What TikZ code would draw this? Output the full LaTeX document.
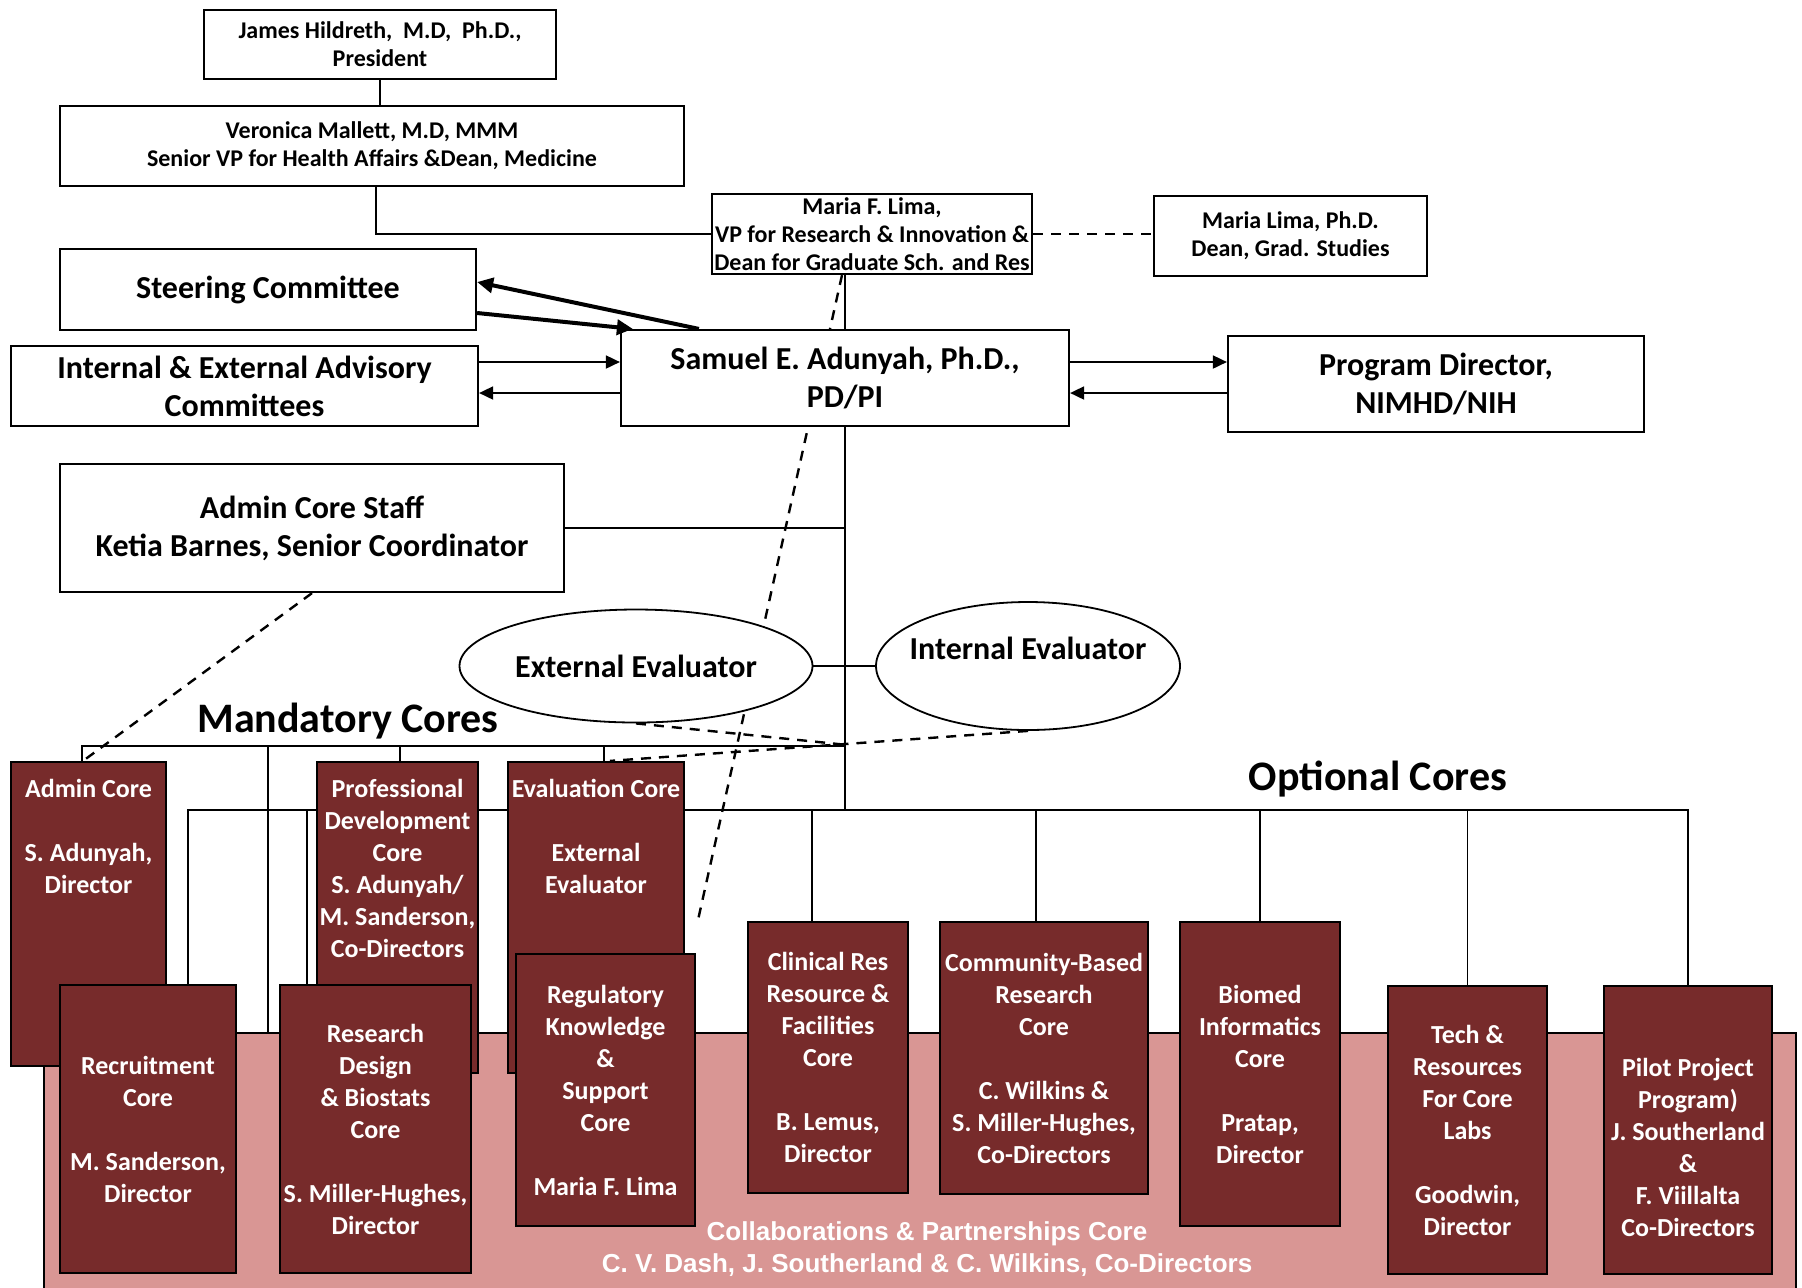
\documentclass[tikz,border=0pt]{standalone}
\usepackage{fontspec}
\setmainfont{Carlito}
\newfontfamily\arialfont{Liberation Sans}
\usetikzlibrary{arrows.meta}
\usetikzlibrary{shapes.geometric}
\usetikzlibrary{backgrounds}
\usetikzlibrary{calc}
\definecolor{coredark}{RGB}{119,43,43}
\definecolor{collabpink}{RGB}{217,150,148}

\tikzset{
  topbox/.style={draw, line width=1.1pt, fill=white, inner sep=0pt, align=center, font=\fontsize{12}{14}\selectfont\bfseries},
  bigbox/.style={topbox, font=\fontsize{16}{19}\selectfont\bfseries},
  evalell/.style={ellipse, draw, line width=0.9pt, fill=white, inner sep=0pt, font=\fontsize{16}{19}\selectfont\bfseries},
  evaltxt/.style={inner sep=0pt, font=\fontsize{16}{19}\selectfont\bfseries},
  corebox/.style={draw, line width=1.1pt, fill=coredark, text=white, inner sep=0pt, align=center, font=\fontsize{13}{16}\selectfont\bfseries},
  corelbl/.style={text=white, inner sep=0pt, align=center, font=\fontsize{13}{16}\selectfont\bfseries},
  collabtxt/.style={text=white, inner sep=0pt, align=center, font=\arialfont\fontsize{13}{16}\selectfont\bfseries},
  heading/.style={font=\fontsize{21}{25}\selectfont\bfseries},
  conn/.style={line width=0.9pt},
  dconn/.style={line width=1.2pt, dash pattern=on 5pt off 4pt},
  arr/.style={conn, -{Triangle[length=7pt,width=6.5pt]}},
  rarr/.style={conn, {Triangle[length=7pt,width=6.5pt]}-},
  fatarr/.style={line width=2pt, -{Triangle[length=8pt,width=7.5pt]}}
}

\begin{document}
\begin{tikzpicture}[x=0.5pt, y=-0.5pt]

\useasboundingbox (0,0) rectangle (1802,1287);

% leadership
\node[topbox, minimum width=176pt, minimum height=34.5pt] (pres) at (380,44.5) {James Hildreth,~ M.D,~ Ph.D.,\\President};
\node[topbox, minimum width=312pt, minimum height=40pt] (mallett) at (372,146) {Veronica Mallett, M.D, MMM\\Senior VP for Health Affairs \&Dean, Medicine};
\node[topbox, minimum width=160pt, minimum height=40pt] (lima) at (872,234) {Maria F. Lima,\\VP for Research \& Innovation \&\\Dean for Graduate Sch. and Res};
\node[topbox, minimum width=136.5pt, minimum height=40pt] (dean) at (1290.5,236) {Maria Lima, Ph.D.\\Dean, Grad. Studies};

\node[bigbox, minimum width=208pt, minimum height=40.5pt] (steer) at (268,289.5) {Steering Committee};
\node[bigbox, minimum width=233.5pt, minimum height=40pt] (advis) at (244.5,386) {Internal \& External Advisory\\Committees};
\node[bigbox, minimum width=224pt, minimum height=48pt] (pdpi) at (845,378) {Samuel E. Adunyah, Ph.D.,\\PD/PI};
\node[bigbox, minimum width=208pt, minimum height=48pt] (nimhd) at (1436,384) {Program Director,\\NIMHD/NIH};
\node[bigbox, minimum width=252pt, minimum height=64pt] (staff) at (312,528) {Admin Core Staff\\Ketia Barnes, Senior Coordinator};

% evaluators
\node[evalell, minimum width=176.5pt, minimum height=56.5pt] (exteval) at (636,666) {External Evaluator};
\node[evalell, minimum width=152pt, minimum height=64pt, label={[evaltxt, yshift=9pt]center:Internal Evaluator}] (inteval) at (1028,666) {};

\node[heading] (mandlbl) at (348,721) {Mandatory Cores};
\node[heading] (optlbl) at (1378,779) {Optional Cores};

% collaborations core (background band)
\node[draw, line width=1.1pt, fill=collabpink, minimum width=876pt, minimum height=133.5pt,
  label={[collabtxt, xshift=3.5pt, yshift=-41.25pt]center:{Collaborations \& Partnerships Core\\C. V. Dash, J. Southerland \& C. Wilkins, Co-Directors}}] (collab) at (920,1166.5) {};

% mandatory cores
\node[corebox, minimum width=77.5pt, minimum height=152pt, label={[corelbl, yshift=38.75pt]center:{Admin Core\\[16pt]S. Adunyah,\\Director}}] (admin) at (88.5,914) {};
\node[corebox, minimum width=80.5pt, minimum height=155.5pt, label={[corelbl, yshift=24.75pt]center:{Professional\\Development\\Core\\S. Adunyah/\\M. Sanderson,\\Co-Directors}}] (profdev) at (397.5,917.5) {};
\node[corebox, minimum width=88pt, minimum height=155.5pt, label={[corelbl, yshift=40.5pt]center:{Evaluation Core\\[16pt]External\\Evaluator}}] (evalcore) at (596,917.5) {};

% optional cores
\node[corebox, minimum width=88pt, minimum height=144pt] (recruit) at (148,1129) {Recruitment\\Core\\[16pt]M. Sanderson,\\Director};
\node[corebox, minimum width=95.5pt, minimum height=144pt] (design) at (375.5,1129) {Research\\Design\\\& Biostats\\Core\\[16pt]S. Miller-Hughes,\\Director};
\node[corebox, minimum width=89.5pt, minimum height=136pt] (regul) at (605.5,1090) {Regulatory\\Knowledge\\\&\\Support\\Core\\[16pt]Maria F. Lima};
\node[corebox, minimum width=80pt, minimum height=135.5pt] (clinical) at (828,1057.5) {Clinical Res\\Resource \&\\Facilities\\Core\\[16pt]B. Lemus,\\Director};
\node[corebox, minimum width=104pt, minimum height=136pt] (community) at (1044,1058) {Community-Based\\Research\\Core\\[16pt]C. Wilkins \&\\S. Miller-Hughes,\\Co-Directors};
\node[corebox, minimum width=80pt, minimum height=152pt] (biomed) at (1260,1074) {Biomed\\Informatics\\Core\\[16pt]Pratap,\\Director};
\node[corebox, minimum width=79.5pt, minimum height=144pt] (tech) at (1467.5,1130) {Tech \&\\Resources\\For Core\\Labs\\[16pt]Goodwin,\\Director};
\node[corebox, minimum width=84pt, minimum height=144pt, label={[corelbl, yshift=-8.5pt]center:{Pilot Project\\Program)\\J. Southerland\\\&\\F. Viillalta\\Co-Directors}}] (pilot) at (1688,1130) {};

\coordinate (mbus) at (845,746);
\coordinate (obus) at (845,810);
\coordinate (dashend) at (698,920);

\begin{scope}[on background layer]
\draw[conn] (pres.south) -- (pres.south |- mallett.north);
\draw[conn] ([xshift=2pt]mallett.south) |- (lima.west);
\draw[dconn] (lima.east) -- (lima.east -| dean.west);
\draw[conn] (pdpi.north) -- (pdpi.north |- lima.south);
\draw[dconn] ([xshift=-15pt]lima.south) -- (dashend);
\draw[conn] (pdpi.south) -- (obus);
\draw[conn] (staff.east) -- (staff.east -| pdpi.south);
\draw[conn] (exteval.east) -- (inteval.west);
\foreach \cname/\dx in {admin/-3.25pt, profdev/1.25pt, evalcore/4pt, collab/-326pt}
  \draw[conn] ([xshift=\dx]\cname.north) |- (mbus);
\foreach \cname/\dx in {recruit/20pt, design/-34.25pt, clinical/-8pt, community/-4pt, biomed/0pt, tech/0pt, pilot/0pt}
  \draw[conn] ([xshift=\dx]\cname.north) |- (obus);
\end{scope}

% evaluation links
\draw[dconn] (inteval.south) -- ([xshift=7pt]evalcore.north);
\draw[dconn] (exteval.south) -- ($(inteval.south)!0.447!([xshift=7pt]evalcore.north)$);
\draw[dconn] (staff.south) -- ([xshift=-2.75pt]admin.north);

% reporting arrows
\draw[fatarr] ([xshift=39.5pt]pdpi.north west) -- ([yshift=3.75pt]steer.east);
\draw[fatarr] ([yshift=-11.75pt]steer.east) -- ([xshift=6.5pt]pdpi.north west);
\draw[arr] ([yshift=12pt]advis.east) -- ([yshift=12pt]advis.east -| pdpi.west);
\draw[rarr] ([yshift=-3.5pt]advis.east) -- ([yshift=-3.5pt]advis.east -| pdpi.west);
\draw[arr] ([yshift=8pt]pdpi.east) -- ([yshift=8pt]pdpi.east -| nimhd.west);
\draw[rarr] ([yshift=-7.5pt]pdpi.east) -- ([yshift=-7.5pt]pdpi.east -| nimhd.west);

\end{tikzpicture}
\end{document}
